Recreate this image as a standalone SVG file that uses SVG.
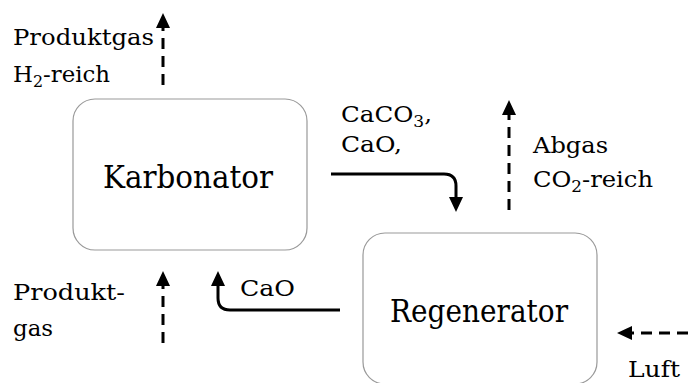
<svg xmlns="http://www.w3.org/2000/svg" width="688" height="383" viewBox="0 0 688 383">
<style>
.box{fill:#fff;stroke:#999;stroke-width:1.2}
text{font-family:'DejaVu Serif','Liberation Serif',serif;fill:#000}
.big{font-size:31px}
.lbl{font-size:23px}
.sub{font-size:16px}
.flow{fill:none;stroke:#000;stroke-width:3;marker-end:url(#ah)}
.dash{stroke-dasharray:11 7}
</style>
<defs>
<marker id="ah" viewBox="0 -7 15 14" markerWidth="15" markerHeight="14" refX="0" refY="0" orient="auto" markerUnits="userSpaceOnUse">
<path d="M0,-7 L15,0 L0,7 z" fill="#000"/>
</marker>
</defs>
<g id="karbonator">
<rect class="box" x="73" y="99" width="234" height="151" rx="22"/>
<text class="big" x="103" y="188" textLength="170" lengthAdjust="spacingAndGlyphs">Karbonator</text>
</g>
<g id="regenerator">
<rect class="box" x="363" y="233" width="234" height="151" rx="22"/>
<text class="big" x="390" y="322" textLength="178" lengthAdjust="spacingAndGlyphs">Regenerator</text>
</g>
<g id="connectors">
<path class="flow dash" d="M163,85 V28"/>
<path class="flow" d="M331,174 H444 Q456,174 456,186 V197"/>
<path class="flow dash" d="M509,210 V115"/>
<path class="flow dash" d="M163,343 V286"/>
<path class="flow" d="M340,310 H230 Q218,310 218,298 V286"/>
<path class="flow dash" d="M688,333 H632"/>
</g>
<g id="labels">
<text class="lbl" x="13" y="45" textLength="141" lengthAdjust="spacingAndGlyphs">Produktgas</text>
<text class="lbl" x="13" y="82" textLength="97" lengthAdjust="spacingAndGlyphs">H<tspan class="sub" dy="5">2</tspan><tspan dy="-5">-reich</tspan></text>
<text class="lbl" x="341" y="122" textLength="91" lengthAdjust="spacingAndGlyphs">CaCO<tspan class="sub" dy="5">3</tspan><tspan dy="-5">,</tspan></text>
<text class="lbl" x="341" y="152" textLength="61" lengthAdjust="spacingAndGlyphs">CaO,</text>
<text class="lbl" x="533" y="153" textLength="75" lengthAdjust="spacingAndGlyphs">Abgas</text>
<text class="lbl" x="533" y="187" textLength="120" lengthAdjust="spacingAndGlyphs">CO<tspan class="sub" dy="5">2</tspan><tspan dy="-5">-reich</tspan></text>
<text class="lbl" x="13" y="300" textLength="112" lengthAdjust="spacingAndGlyphs">Produkt-</text>
<text class="lbl" x="13" y="336" textLength="40" lengthAdjust="spacingAndGlyphs">gas</text>
<text class="lbl" x="240" y="296" textLength="55" lengthAdjust="spacingAndGlyphs">CaO</text>
<text class="lbl" x="628" y="377" textLength="52" lengthAdjust="spacingAndGlyphs">Luft</text>
</g>
</svg>
